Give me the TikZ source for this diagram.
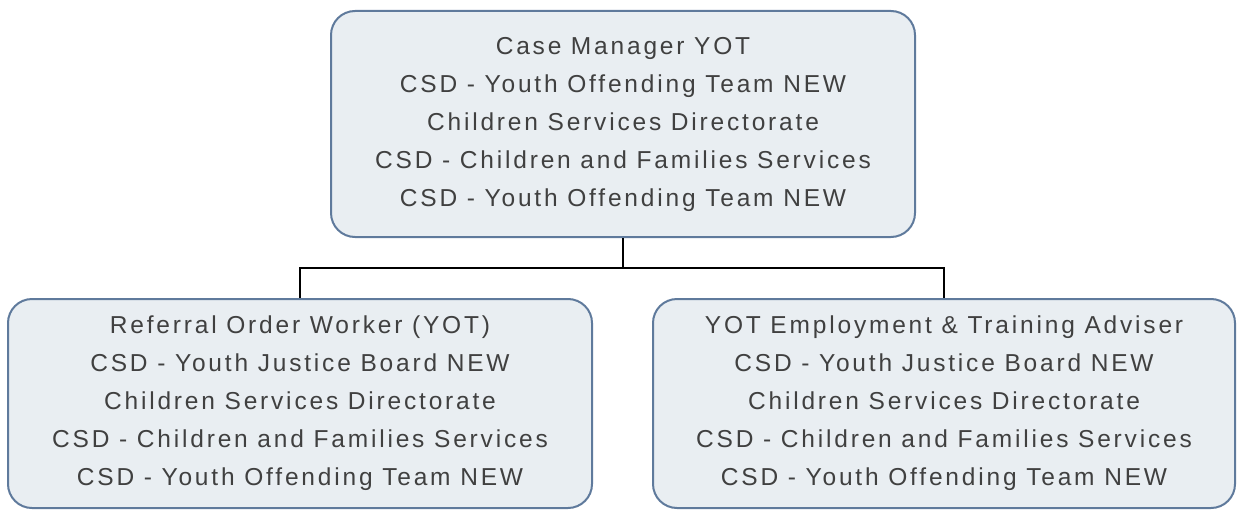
\documentclass[tikz,border=0pt]{standalone}
\usepackage{fontspec}
\newfontfamily\boxfont[LetterSpace=11.5]{Liberation Sans}
\definecolor{boxfill}{HTML}{E9EEF2}
\definecolor{boxline}{HTML}{5F7A9C}
\definecolor{txt}{HTML}{404040}
\begin{document}
\begin{tikzpicture}[x=1pt,y=-1pt,
  orgbox/.style={draw=boxline,line width=2pt,fill=boxfill,rounded corners=24pt,
    align=center,text=txt,inner sep=0pt,
    font=\boxfont\fontsize{24.5}{38}\selectfont},
  link/.style={draw=black,line width=2pt}]
\useasboundingbox (0,0) rectangle (1238,511);
\node[orgbox,minimum width=584pt,minimum height=226pt] (top) at (623,124)
 {Case Manager YOT\\CSD - Youth Offending Team NEW\\Children Services Directorate\\CSD - Children and Families Services\\CSD - Youth Offending Team NEW};
\node[orgbox,minimum width=584pt,minimum height=209pt] (left) at (300,403.5)
 {Referral Order Worker (YOT)\\CSD - Youth Justice Board NEW\\Children Services Directorate\\CSD - Children and Families Services\\CSD - Youth Offending Team NEW};
\node[orgbox,minimum width=582pt,minimum height=209pt] (right) at (944,403.5)
 {YOT Employment \& Training Adviser\\CSD - Youth Justice Board NEW\\Children Services Directorate\\CSD - Children and Families Services\\CSD - Youth Offending Team NEW};
\coordinate (mid) at (623,268);
\draw[link] (top.south) -- (mid);
\draw[link] (left.north) |- (mid) -| (right.north);
\end{tikzpicture}
\end{document}
